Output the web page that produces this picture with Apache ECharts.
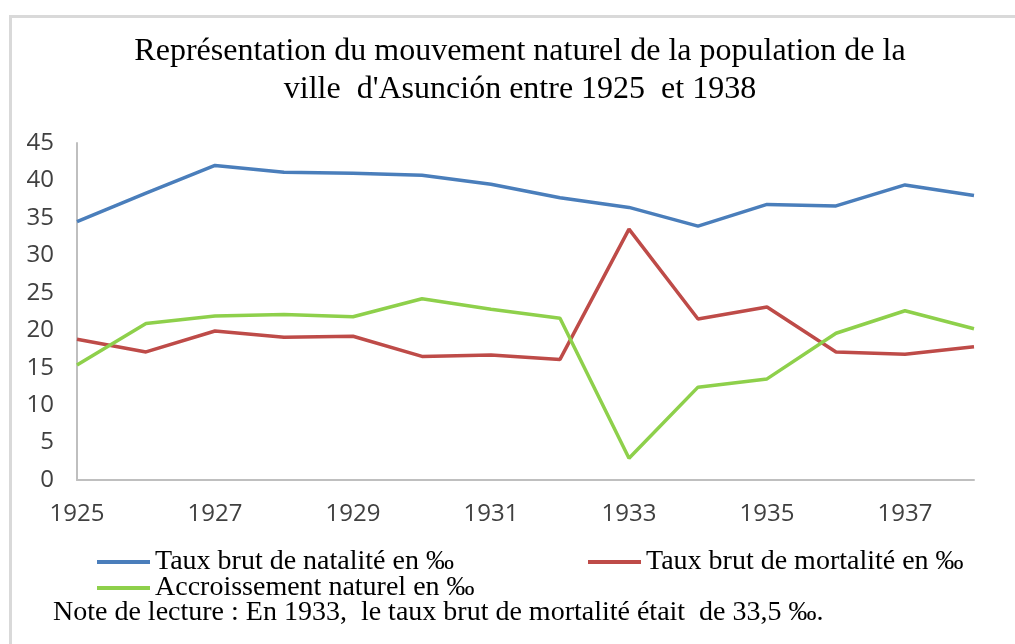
<!DOCTYPE html>
<html>
<head>
<meta charset="utf-8">
<script src="https://cdn.jsdelivr.net/npm/echarts@6/dist/echarts.min.js"></script>
<style>
html,body{margin:0;padding:0;background:#fff;}
#chart{width:1015px;height:644px;}
</style>
</head>
<body>
<div id="chart"></div>
<script>
const years = ['1925','1926','1927','1928','1929','1930','1931','1932','1933','1934','1935','1936','1937','1938'];
const natalite = [34.5, 38.3, 42.0, 41.1, 40.95, 40.7, 39.5, 37.7, 36.4, 33.9, 36.8, 36.6, 39.4, 38.0];
const mortalite = [18.8, 17.1, 19.9, 19.05, 19.2, 16.5, 16.7, 16.1, 33.5, 21.5, 23.1, 17.1, 16.8, 17.8];
const accroissement = [15.35, 20.9, 21.9, 22.1, 21.8, 24.2, 22.8, 21.6, 2.9, 12.4, 13.5, 19.6, 22.6, 20.2];
const seriesNames = ['Taux brut de natalité en ‰', 'Taux brut de mortalité en ‰', 'Accroissement naturel en ‰'];
const titleText = "Représentation du mouvement naturel de la population de la\nville  d'Asunción entre 1925  et 1938";
const noteText = "Note de lecture : En 1933,  le taux brut de mortalité était  de 33,5 ‰.";

const colors = ['#4A7EBB', '#BE4B48', '#8ED04B'];
const serif = '"Liberation Serif", "Times New Roman", serif';
const sans = '"Open Sans", sans-serif';

const legendBase = {
  orient: 'horizontal',
  icon: 'rect',
  itemWidth: 53,
  itemHeight: 4,
  itemGap: 5,
  padding: 0,
  textStyle: {fontFamily: serif, fontSize: 28, color: '#000', padding: [0,0,0,0]},
  selectedMode: false
};

const chart = echarts.init(document.getElementById('chart'), null, {renderer: 'canvas'});
chart.setOption({
  animation: false,
  backgroundColor: '#fff',
  color: colors,
  title: {
    text: titleText,
    left: 520,
    top: 33,
    padding: 0,
    textAlign: 'center',
    textStyle: {fontFamily: serif, fontSize: 32, fontWeight: 'normal', color: '#000', lineHeight: 38}
  },
  legend: [
    Object.assign({}, legendBase, {data: [seriesNames[0]], left: 97, top: 548}),
    Object.assign({}, legendBase, {data: [seriesNames[1]], left: 588, top: 548}),
    Object.assign({}, legendBase, {data: [seriesNames[2]], left: 97, top: 574})
  ],
  grid: {left: 77, right: 41, top: 143, bottom: 164, containLabel: false},
  xAxis: {
    type: 'category',
    data: years,
    boundaryGap: false,
    axisLine: {lineStyle: {color: '#BFBFBF', width: 2}},
    axisTick: {show: false},
    axisLabel: {interval: 1, margin: 22, fontFamily: sans, fontSize: 24, color: '#404040'},
    splitLine: {show: false}
  },
  yAxis: {
    type: 'value',
    min: 0,
    max: 45,
    interval: 5,
    axisLine: {show: true, lineStyle: {color: '#BFBFBF', width: 2}},
    axisTick: {show: false},
    axisLabel: {margin: 23, fontFamily: sans, fontSize: 24, color: '#404040'},
    splitLine: {show: false}
  },
  series: [
    {name: seriesNames[0], type: 'line', data: natalite, symbol: 'none', lineStyle: {width: 3.5, color: colors[0]}, itemStyle: {color: colors[0]}},
    {name: seriesNames[1], type: 'line', data: mortalite, symbol: 'none', lineStyle: {width: 3.5, color: colors[1]}, itemStyle: {color: colors[1]}},
    {name: seriesNames[2], type: 'line', data: accroissement, symbol: 'none', lineStyle: {width: 3.5, color: colors[2]}, itemStyle: {color: colors[2]}}
  ],
  graphic: [
    {type: 'rect', left: 8, top: 14, shape: {width: 1100, height: 700}, style: {fill: 'none', stroke: '#D9D9D9', lineWidth: 3}, silent: true},
    {type: 'text', left: 53, top: 599, style: {text: noteText, font: '28px "Liberation Serif", "Times New Roman", serif', fill: '#000'}, silent: true}
  ]
});
</script>
</body>
</html>
